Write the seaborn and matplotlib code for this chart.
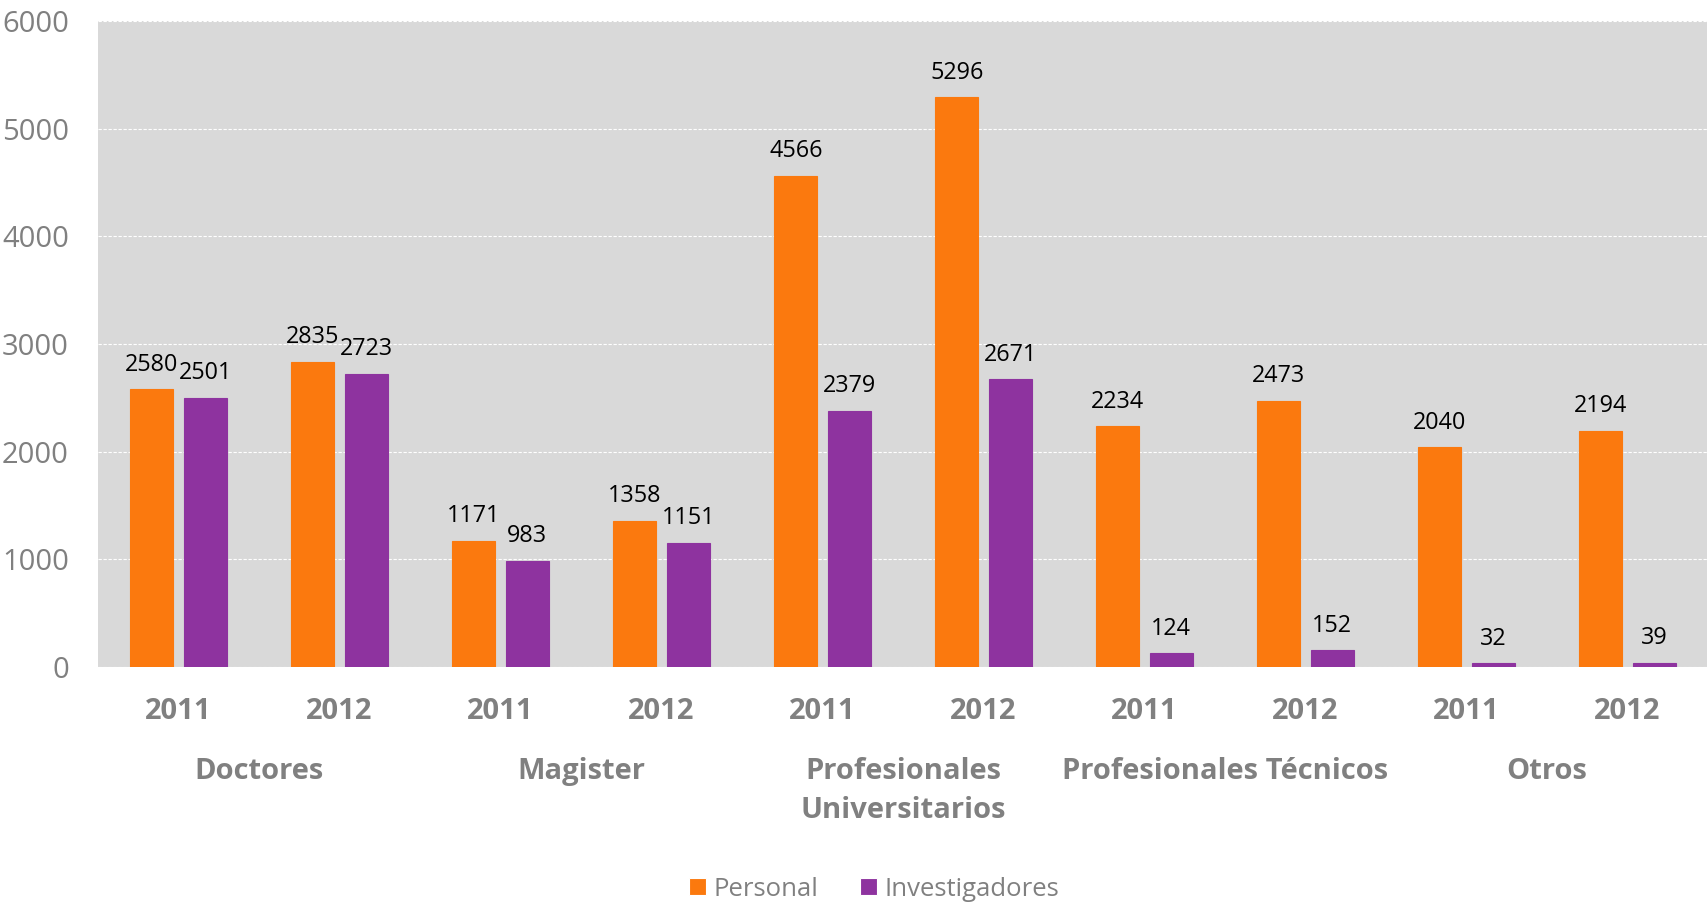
import pandas as pd
import matplotlib.pyplot as plt
import seaborn as sns

# Data
grupos = ['Doctores', 'Magister', 'Profesionales\nUniversitarios',
          'Profesionales Técnicos', 'Otros']
anios = ['2011', '2012']
personal = [2580, 2835, 1171, 1358, 4566, 5296, 2234, 2473, 2040, 2194]
investigadores = [2501, 2723, 983, 1151, 2379, 2671, 124, 152, 32, 39]
series = ['Personal', 'Investigadores']
colores = ['#fb790e', '#8e339f']

slots = [f'{g} {a}' for g in grupos for a in anios]
df = pd.DataFrame({
    'slot': slots * 2,
    'valor': personal + investigadores,
    'serie': ['Personal'] * len(slots) + ['Investigadores'] * len(slots),
})

sns.set_style('white')
plt.rcParams['font.family'] = ['Open Sans', 'DejaVu Sans']
gris = '#808080'

fig = plt.figure(figsize=(17.08, 9.05), dpi=100)
ax = fig.add_axes([98 / 1708, 1 - 666.7 / 905, 1 - 98 / 1708, (666.7 - 21.3) / 905])
ax.set_facecolor('#d9d9d9')

sns.barplot(data=df, x='slot', y='valor', hue='serie', order=slots,
            hue_order=series, palette=colores, saturation=1, width=0.662,
            gap=0.19, errorbar=None, ax=ax, linewidth=0.8)
for cont, c in zip(ax.containers, colores):
    for p in cont:
        p.set_edgecolor(c)
    ax.bar_label(cont, fmt='%d', padding=9, fontsize=16.8, color='black')

ax.set_ylim(0, 6000)
ax.set_xlim(-0.5, len(slots) - 0.5)
ax.set_yticks(range(0, 6001, 1000))
ax.yaxis.grid(True, color='white', linewidth=0.8, linestyle=(0, (3, 1.5)))
ax.set_axisbelow(True)
for s in ax.spines.values():
    s.set_visible(False)
ax.tick_params(axis='y', length=0, pad=21, labelsize=21, labelcolor=gris)
ax.set_xticks(range(len(slots)), labels=anios * len(grupos))
ax.tick_params(axis='x', length=0, pad=21.5, labelsize=21, labelcolor=gris)
for lbl in ax.get_xticklabels():
    lbl.set_fontweight('bold')
ax.set_xlabel('')
ax.set_ylabel('')

# Group labels under the year labels
for i, g in enumerate(grupos):
    ax.annotate(g, xy=(2 * i + 0.5, 0), xycoords=('data', 'axes fraction'),
                xytext=(0, -90), textcoords='offset pixels', ha='center',
                va='top', fontsize=21, fontweight='bold', color=gris,
                linespacing=1.45)

handles, labels = ax.get_legend_handles_labels()
ax.get_legend().remove()
fig.legend(handles, labels, loc='center', bbox_to_anchor=(874 / 1708, 1 - 889 / 905),
           ncol=2, frameon=False, fontsize=18.5, labelcolor=gris,
           handlelength=0.66, handleheight=0.66, handletextpad=0.3,
           columnspacing=1.6)

fig.savefig('out.png', dpi=100)
